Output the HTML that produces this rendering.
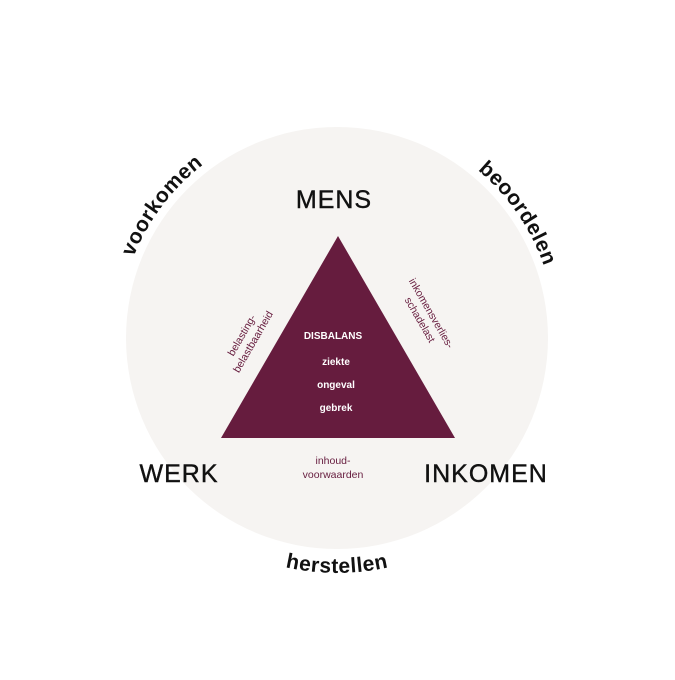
<!DOCTYPE html>
<html><head><style>html,body{margin:0;padding:0;background:#fff}</style></head>
<body>
<svg width="675" height="675" viewBox="0 0 675 675" xmlns="http://www.w3.org/2000/svg" font-family="Liberation Sans, sans-serif">
<defs>
<path id="cw" d="M556,338 A219,219 0 1 1 118,338 A219,219 0 1 1 556,338"/>
<path id="bot" d="M102,338 A235,235 0 0 0 572,338"/>
</defs>
<circle cx="337" cy="338" r="211" fill="#f6f4f2"/>
<polygon points="338,236 221,438 455,438" fill="#661c3e"/>
<text font-size="21" font-weight="bold" fill="#111" letter-spacing="0.5"><textPath href="#cw" startOffset="60.3%" text-anchor="middle">voorkomen</textPath></text>
<text font-size="21" font-weight="bold" fill="#111" letter-spacing="0.5"><textPath href="#cw" startOffset="90.4%" text-anchor="middle">beoordelen</textPath></text>
<text font-size="21" font-weight="bold" fill="#111" letter-spacing="0.5"><textPath href="#bot" startOffset="50%" text-anchor="middle">herstellen</textPath></text>
<text x="334" y="208" font-size="25" fill="#111" text-anchor="middle" letter-spacing="1" stroke="#111" stroke-width="0.4">MENS</text>
<text x="179" y="482" font-size="25" fill="#111" text-anchor="middle" letter-spacing="1" stroke="#111" stroke-width="0.4">WERK</text>
<text x="486" y="482" font-size="25" fill="#111" text-anchor="middle" letter-spacing="1" stroke="#111" stroke-width="0.4">INKOMEN</text>
<g fill="#fff" font-weight="bold" font-size="10" text-anchor="middle">
<text x="333" y="339">DISBALANS</text>
<text x="336" y="365">ziekte</text>
<text x="336" y="388">ongeval</text>
<text x="336" y="411">gebrek</text>
</g>
<g fill="#661c3e" font-size="10.5" text-anchor="middle">
<text transform="translate(250,340) rotate(-60)"><tspan x="0" y="-6">belasting-</tspan><tspan x="0" y="7">belastbaarheid</tspan></text>
<text transform="translate(423,318) rotate(60)"><tspan x="0" y="-6">inkomensverlies-</tspan><tspan x="0" y="7">schadelast</tspan></text>
<text x="333" y="464">inhoud-</text>
<text x="333" y="478">voorwaarden</text>
</g>
</svg>
</body></html>
